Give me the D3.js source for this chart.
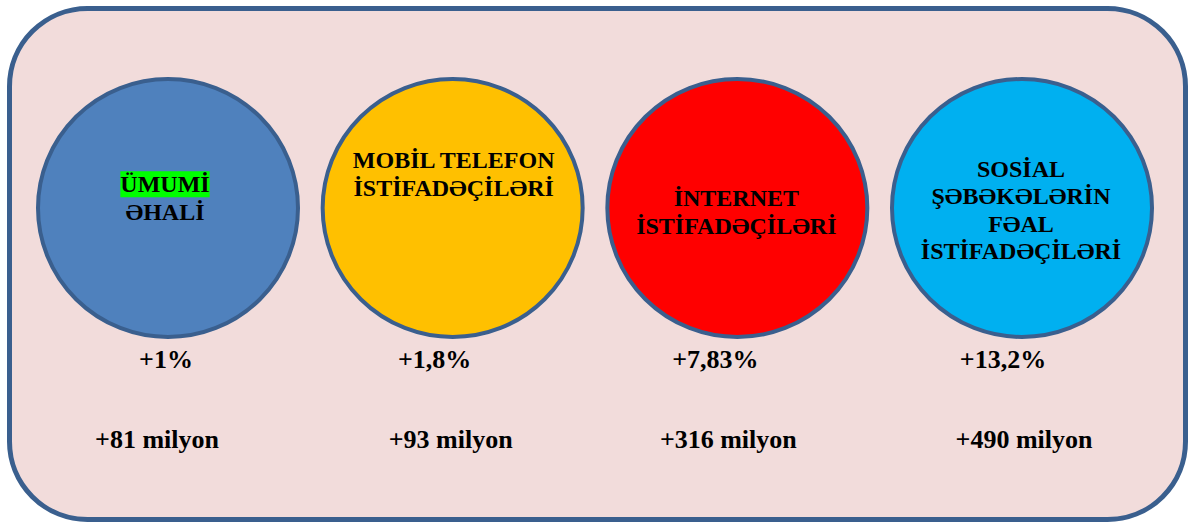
<!DOCTYPE html>
<html>
<head>
<meta charset="utf-8">
<script src="https://cdn.jsdelivr.net/npm/d3@7"></script>
<style>
  html, body { margin: 0; padding: 0; background: #fff; }
</style>
</head>
<body>
<svg width="1188" height="525"></svg>
<script>
// chart values
const categories = ["Ümumi əhali", "Mobil telefon istifadəçiləri", "İnternet istifadəçiləri", "Sosial şəbəkələrin fəal istifadəçiləri"];
const labelLines = [
  ["ÜMUMİ", "ƏHALİ"],
  ["MOBİL TELEFON", "İSTİFADƏÇİLƏRİ"],
  ["İNTERNET", "İSTİFADƏÇİLƏRİ"],
  ["SOSİAL", "ŞƏBƏKƏLƏRİN", "FƏAL", "İSTİFADƏÇİLƏRİ"]
];
const growthPct = ["+1%", "+1,8%", "+7,83%", "+13,2%"];
const growthAbs = ["+81 milyon", "+93 milyon", "+316 milyon", "+490 milyon"];

// look
const font = "Liberation Serif";
const fills = ["#4F81BD", "#FFC000", "#FF0000", "#00B0F0"];
const labelDx = [-3, 1, -1, -1];       // nudges of label blocks inside the circles
const labelDy = [-10, -34, 4, 2];
const pctDx = [-2, -18, -22, -19];
const absDx = [-11, -2, -9, 2];

const svg = d3.select("svg");

svg.append("rect")
  .attr("x", 9.5).attr("y", 8.5)
  .attr("width", 1176).attr("height", 511)
  .attr("rx", 78).attr("ry", 78)
  .attr("fill", "#F2DCDB")
  .attr("stroke", "#3A5F8E")
  .attr("stroke-width", 5);

const x = d3.scalePoint().domain(categories).range([168, 1022]);
const color = d3.scaleOrdinal().domain(categories).range(fills);
const cy = 208, r = 129, lh = 27.5;

const g = svg.selectAll("g.item")
  .data(categories)
  .enter().append("g")
  .attr("class", "item")
  .attr("transform", d => `translate(${x(d)},0)`);

g.append("ellipse")
  .attr("cx", 0).attr("cy", cy)
  .attr("rx", r + 1).attr("ry", r)
  .attr("fill", d => color(d))
  .attr("stroke", "#3A5F8E")
  .attr("stroke-width", 4);

g.each(function(d, i) {
  const lines = labelLines[i];
  const top = cy + labelDy[i] - (lines.length - 1) * lh / 2 + 8;
  lines.forEach((t, j) => {
    const txt = d3.select(this).append("text")
      .attr("text-anchor", "middle")
      .attr("x", labelDx[i])
      .attr("y", top + j * lh)
      .attr("font-family", font)
      .attr("font-weight", "bold")
      .attr("font-size", 24)
      .attr("fill", "#000")
      .text(t);
    // green highlight behind the first word
    if (i === 0 && j === 0) {
      const b = txt.node().getBBox();
      d3.select(this).insert("rect", "text")
        .attr("x", b.x).attr("y", b.y)
        .attr("width", b.width).attr("height", b.height)
        .attr("fill", "#00FF00");
    }
  });
});

g.append("text")
  .attr("text-anchor", "middle")
  .attr("x", (d, i) => pctDx[i])
  .attr("y", 368)
  .attr("font-family", font)
  .attr("font-weight", "bold")
  .attr("font-size", 26)
  .attr("fill", "#000")
  .text((d, i) => growthPct[i]);

g.append("text")
  .attr("text-anchor", "middle")
  .attr("x", (d, i) => absDx[i])
  .attr("y", 448)
  .attr("font-family", font)
  .attr("font-weight", "bold")
  .attr("font-size", 26)
  .attr("fill", "#000")
  .text((d, i) => growthAbs[i]);
</script>
</body>
</html>
